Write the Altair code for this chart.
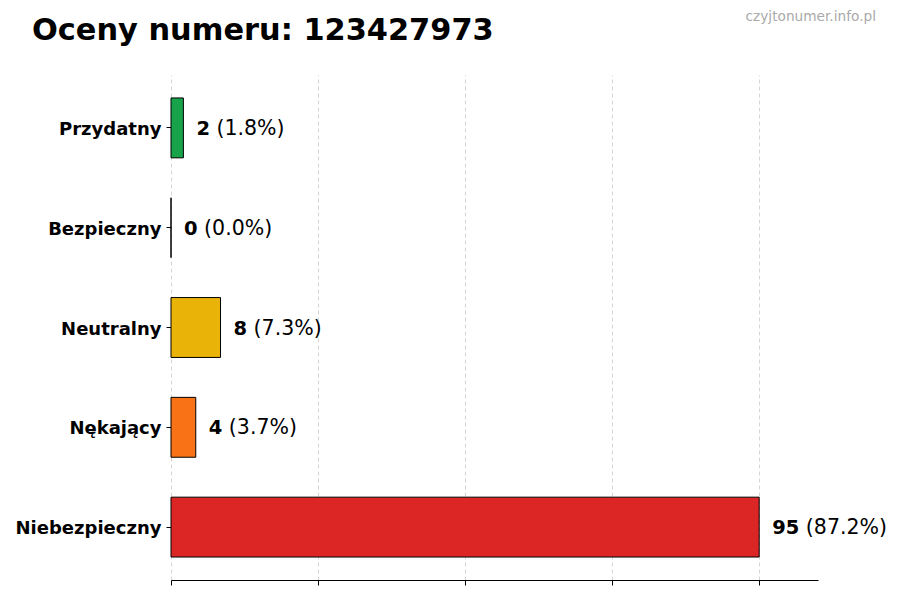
import altair as alt
import pandas as pd

categories = ["Przydatny", "Bezpieczny", "Neutralny", "Nękający", "Niebezpieczny"]
counts = [2, 0, 8, 4, 95]
percents = ["(1.8%)", "(0.0%)", "(7.3%)", "(3.7%)", "(87.2%)"]
colors = ["#16a34a", "#2563eb", "#eab308", "#f97316", "#dc2626"]
tick_values = [0, 23.75, 47.5, 71.25, 95]
x_max = 104.5
title_text = "Oceny numeru: 123427973"
watermark = "czyjtonumer.info.pl"

FONT = "DejaVu Sans"
NUM_SIZE = 19.5
PCT_SIZE = 20.5
DIGIT_W = 0.696 * NUM_SIZE
SPACE_W = 0.318 * PCT_SIZE

df = pd.DataFrame({
    "cat": categories,
    "count": counts,
    "num": [str(c) for c in counts],
    "pct": percents,
    "color": colors,
    "pct_dx": [13 + len(str(c)) * DIGIT_W + SPACE_W for c in counts],
})

W, H = 647, 505

x_scale = alt.Scale(domain=[0, x_max], nice=False, zero=True)
y_scale = alt.Scale(domain=categories, paddingInner=0.4, paddingOuter=0.23)

base = alt.Chart(df)

bars = base.mark_bar(stroke="black", strokeWidth=1, cornerRadius=0).encode(
    x=alt.X("count:Q", scale=x_scale,
            axis=alt.Axis(values=tick_values, labels=False, title=None,
                          grid=True, gridDash=[4, 3], gridColor="#cccccc", gridWidth=0.8,
                          domainColor="black", domainWidth=1, tickColor="black",
                          tickSize=5, tickWidth=1)),
    y=alt.Y("cat:N", scale=y_scale, sort=categories,
            axis=alt.Axis(title=None, domain=False, tickColor="black", tickSize=5,
                          labelFont=FONT, labelFontSize=18, labelFontWeight="bold",
                          labelColor="black", labelPadding=5, labelOffset=2)),
    color=alt.Color("color:N", scale=None),
)

num_text = base.mark_text(align="left", baseline="middle", dx=13, dy=1, font=FONT,
                          fontSize=NUM_SIZE, fontWeight="bold", color="black").encode(
    x=alt.X("count:Q", scale=x_scale),
    y=alt.Y("cat:N", scale=y_scale, sort=categories),
    text="num:N",
)

pct_layers = []
for i, row in df.iterrows():
    pct_layers.append(
        alt.Chart(df.iloc[[i]]).mark_text(align="left", baseline="middle",
                                          dx=float(row["pct_dx"]), dy=1, font=FONT,
                                          fontSize=PCT_SIZE, color="black").encode(
            x=alt.X("count:Q", scale=x_scale),
            y=alt.Y("cat:N", scale=y_scale, sort=categories),
            text="pct:N",
        )
    )

wm = alt.Chart(pd.DataFrame({"t": [watermark]})).mark_text(
    align="right", baseline="middle", font=FONT, fontSize=13.7, color="#aaaaaa"
).encode(x=alt.value(705), y=alt.value(-58), text="t:N")

ttl = alt.Chart(pd.DataFrame({"t": [title_text]})).mark_text(
    align="left", baseline="alphabetic", font=FONT, fontSize=30.4, fontWeight="bold",
    color="black"
).encode(x=alt.value(-139), y=alt.value(-35), text="t:N")

chart = alt.layer(bars, num_text, *pct_layers, wm, ttl).properties(
    width=W, height=H,
    autosize=alt.AutoSizeParams(type="none"),
    padding={"left": 163, "top": 67, "right": 74, "bottom": 12},
).configure(background="white").configure_view(stroke=None)

chart.save("out.html", embed_options={"renderer": "svg", "actions": False})
